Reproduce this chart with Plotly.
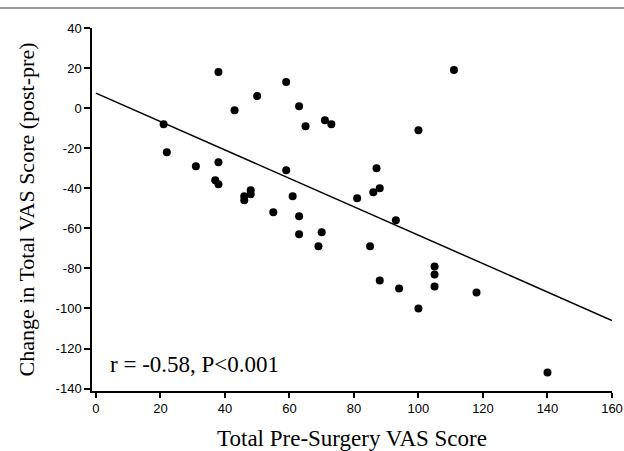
import plotly.graph_objects as go

pre_vas = [38, 59, 50, 43, 21, 22, 31, 38, 59, 37, 38, 48, 48, 46, 46, 55,
           111, 63, 65, 71, 73, 100, 87, 88, 86, 81, 61, 63, 93,
           63, 70, 69, 85, 105, 105, 105, 88, 94, 118, 100, 140]
change_vas = [18, 13, 6, -1, -8, -22, -29, -27, -31, -36, -38, -41, -43, -44, -46, -52,
              19, 1, -9, -6, -8, -11, -30, -40, -42, -45, -44, -54, -56,
              -63, -62, -69, -69, -79, -83, -89, -86, -90, -92, -100, -132]

fit_x = [0, 160]
fit_y = [7.5, -106]

x_ticks = [0, 20, 40, 60, 80, 100, 120, 140, 160]
y_ticks = [40, 20, 0, -20, -40, -60, -80, -100, -120, -140]

serif = "Liberation Serif, Times New Roman, serif"
sans = "Liberation Sans, Arial, sans-serif"

fig = go.Figure()
fig.add_trace(go.Scatter(x=fit_x, y=fit_y, mode="lines",
                         line=dict(color="black", width=1.5), showlegend=False, cliponaxis=False))
fig.add_trace(go.Scatter(x=pre_vas, y=change_vas, mode="markers",
                         marker=dict(color="black", size=8), showlegend=False))

fig.add_annotation(x=3.7, y=-128, xref="x", yref="y", text="r = -0.58, P<0.001",
                   showarrow=False, xanchor="left", yanchor="middle",
                   font=dict(family=serif, size=23, color="black"))

fig.add_shape(type="line", xref="paper", yref="paper", x0=-0.3, x1=1.2,
              y0=1 + 20/363, y1=1 + 20/363, line=dict(color="#777777", width=1.5))

fig.update_layout(
    width=624, height=451,
    margin=dict(l=92, r=12, t=28, b=60, autoexpand=False),
    paper_bgcolor="white", plot_bgcolor="white",
    showlegend=False,
)
fig.update_xaxes(range=[-1.2, 160], tickvals=x_ticks, ticktext=[str(v) for v in x_ticks],
                 automargin=False,
                 showline=True, linecolor="black", linewidth=1.5, showgrid=False, zeroline=False,
                 ticks="outside", ticklen=5, tickwidth=1.5, tickcolor="black",
                 tickfont=dict(family=sans, size=13, color="black"),
                 title=dict(text="Total Pre-Surgery VAS Score", standoff=16,
                            font=dict(family=serif, size=23, color="black")))
fig.update_yaxes(range=[-141.2, 40], tickvals=y_ticks, ticktext=[str(v) for v in y_ticks],
                 automargin=False,
                 showline=True, linecolor="black", linewidth=1.5, showgrid=False, zeroline=False,
                 ticks="outside", ticklen=6, tickwidth=1.5, tickcolor="black",
                 tickfont=dict(family=sans, size=13, color="black"),
                 title=dict(text="Change in Total VAS Score (post-pre)", standoff=15,
                            font=dict(family=serif, size=22, color="black")))

fig.write_html("out.html", config={"displayModeBar": False},
               post_script="document.body.style.margin='0';")
